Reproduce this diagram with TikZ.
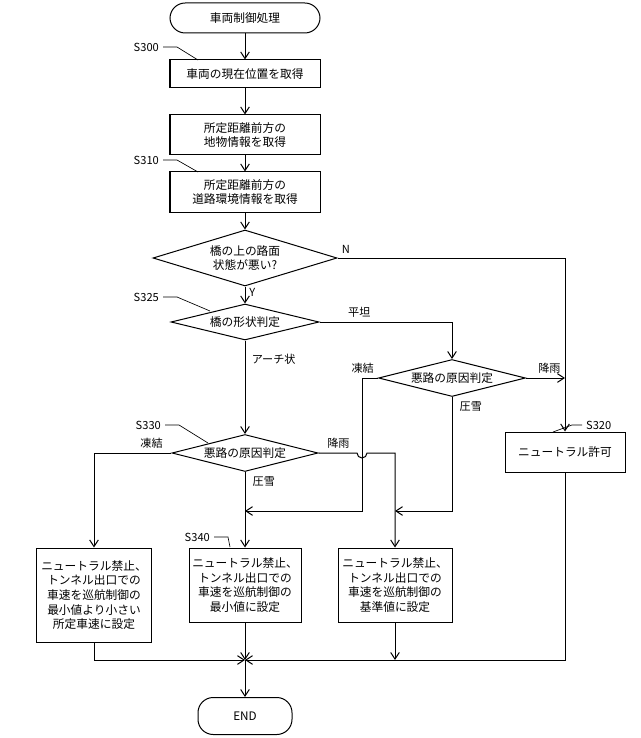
\documentclass[tikz,border=0pt]{standalone}
\usepackage{fontspec}
\setmainfont{Noto Sans CJK JP}
\usetikzlibrary{shapes.geometric,arrows.meta}

\tikzset{
  flow/.style={draw, line width=.3mm, align=center, font=\fontsize{10}{12.5}\selectfont, inner sep=1pt},
  proc/.style={flow, rectangle},
  term/.style={flow, rounded rectangle, rounded corners=12pt},
  dec/.style={flow, diamond, inner sep=0pt},
  lab/.style={font=\fontsize{9.5}{11}\selectfont},
  line/.style={line width=.3mm},
  arr/.style={line, -{Straight Barb[length=2mm,width=2.6mm]}},
}
\newcommand{\steplab}[4]{%
  \node[lab, anchor=east] (#1) at (#2) {#1};
  \draw[line width=.2mm] (#1.east) -- ++(14,0) -- (#3);}

\begin{document}
\begin{tikzpicture}[x=0.03cm, y=-0.03cm]
\useasboundingbox (0,0) rectangle (640,738);
\node[flow, rounded corners=13pt, minimum width=4.5cm, minimum height=0.9cm] (start) at (245,18) {車両制御処理};
\node[proc, minimum width=4.5cm, minimum height=0.84cm] (s300) at (245,74) {車両の現在位置を取得};
\node[proc, minimum width=4.5cm, minimum height=1.2cm] (s305) at (245,135) {所定距離前方の\\地物情報を取得};
\node[proc, minimum width=4.5cm, minimum height=1.2cm] (s310) at (245,192) {所定距離前方の\\道路環境情報を取得};
\node[dec, shape aspect=3.3, minimum width=5.52cm, minimum height=1.68cm] (s315) at (245,258) {橋の上の路面\\状態が悪い?};
\node[dec, shape aspect=4, minimum width=4.44cm, minimum height=1.08cm] (s325) at (245,322) {橋の形状判定};
\node[dec, shape aspect=4, minimum width=4.41cm, minimum height=1.11cm] (s332) at (452,378) {悪路の原因判定};
\node[dec, shape aspect=4, minimum width=4.38cm, minimum height=1.11cm] (s330) at (245,453) {悪路の原因判定};
\node[proc, minimum width=3.6cm, minimum height=1.2cm] (s320) at (565,452) {ニュートラル許可};
\node[proc, minimum width=3.42cm, minimum height=2.82cm] (s345) at (94,595) {ニュートラル禁止、\\トンネル出口での\\車速を巡航制御の\\最小値より小さい\\所定車速に設定};
\node[proc, minimum width=3.36cm, minimum height=2.22cm] (s340) at (245,585) {ニュートラル禁止、\\トンネル出口での\\車速を巡航制御の\\最小値に設定};
\node[proc, minimum width=3.42cm, minimum height=2.22cm] (s335) at (395,585) {ニュートラル禁止、\\トンネル出口での\\車速を巡航制御の\\基準値に設定};
\node[flow, rounded corners=13pt, minimum width=2.82cm, minimum height=1.11cm] (end) at (245,716) {END};
\coordinate (m) at (245,660);

% step numbers
\steplab{S300}{163,47}{198,60}
\steplab{S305}{163,103}{198,115}
\steplab{S310}{163,160}{198,172}
\steplab{S315}{163,228}{212,241}
\steplab{S325}{163,297}{210,311}
\steplab{S332}{398,352}{418,368}
\steplab{S330}{165,425}{208,443}
\steplab{S345}{68,537}{82,547}
\steplab{S340}{214,537}{230,547}
\steplab{S335}{364,537}{380,547}
\node[lab, anchor=west] (S320) at (582,425) {S320};
\draw[line width=.2mm] (S320.west) -- ++(-10,0) -- (553,432);

% flow
\draw[arr] (start) -- (s300);
\draw[arr] (s300) -- (s305);
\draw[arr] (s305) -- (s310);
\draw[arr] (s310) -- (s315);
\draw[arr] (s315) -- (s325) node[lab, pos=.35, right] {Y};
\draw[arr] (s315.east) -| (s320.north) node[lab, pos=0, above right] {N};
\draw[arr] (s325.east) -| (s332.north) node[lab, pos=.15, above] {平坦};
\draw[arr] (s325) -- (s330) node[lab, pos=.2, right, xshift=2pt] {アーチ状};
\draw[arr] (s332.east) -- (565,378) node[lab, pos=.6, above] {降雨};
\draw[arr] (s332.west) -- (362,378) -- (362,511) -- (245,511);
\node[lab, anchor=south east] at (s332.west) {凍結};
\draw[arr] (s332.south) -- (452,511) -- (395,511);
\node[lab, anchor=north west, xshift=3pt] at (s332.south) {圧雪};
\draw[arr] (s330.west) -| (s345.north);
\node[lab, anchor=south east, xshift=-4pt] at (s330.west) {凍結};
\draw[arr] (s330.east) -- (357,453) arc[start angle=180, end angle=0, radius=5] -- (395,453) -- (s335.north);
\node[lab, anchor=south west, xshift=4pt] at (s330.east) {降雨};
\draw[arr] (s330) -- (s340);
\node[lab, anchor=north west, xshift=3pt] at (s330.south) {圧雪};
\draw[arr] (s345.south) |- (m);
\draw[arr] (s340) -- (m);
\draw[arr] (s335.south) -- (395,660);
\draw[arr] (s320.south) |- (m);
\draw[arr] (m) -- (end);
\end{tikzpicture}
\end{document}
